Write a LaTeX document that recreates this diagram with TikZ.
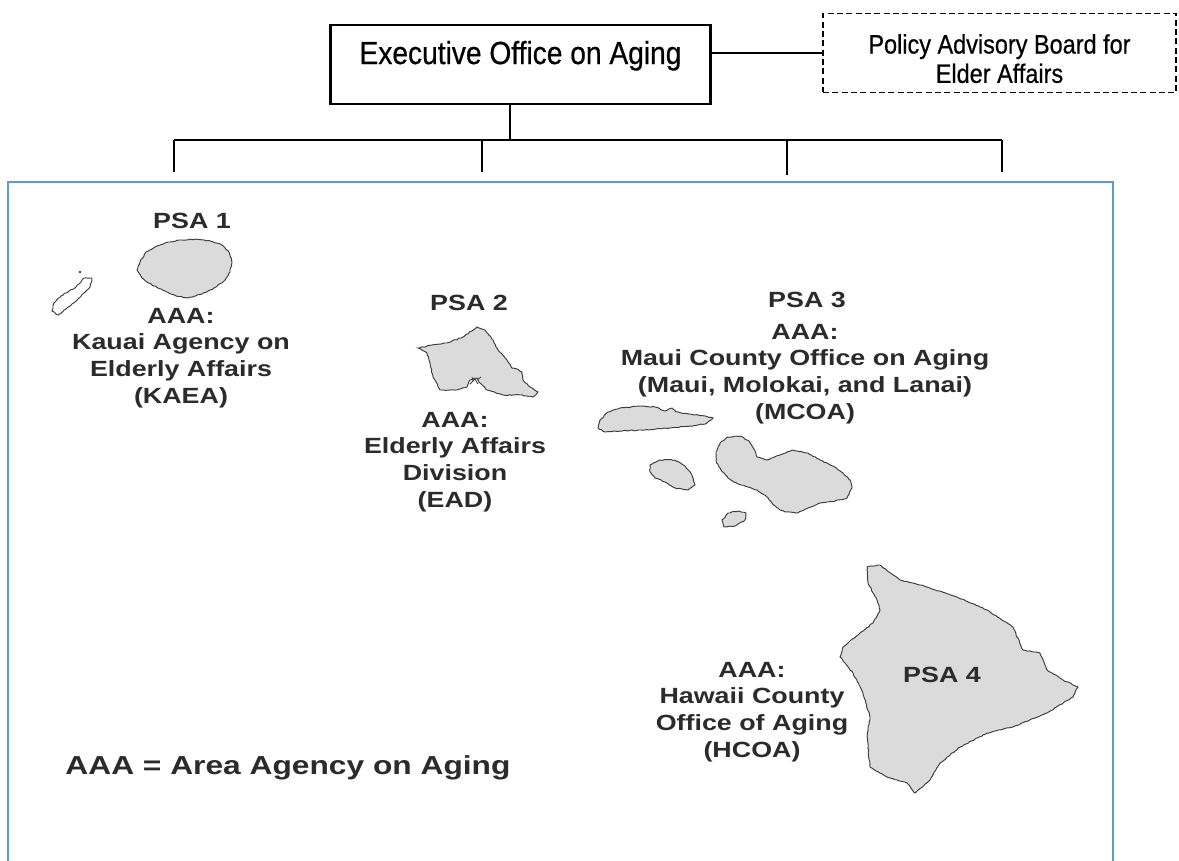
\documentclass[tikz,border=0pt]{standalone}
\usepackage{fontspec}
\setmainfont{Liberation Sans}
\newfontfamily\narrowfont[FakeStretch=0.88,FakeBold=0.6]{Liberation Sans}
\newfontfamily\mapfont[FakeStretch=1.22]{Liberation Sans}
\usetikzlibrary{decorations.pathmorphing}
\definecolor{frameblue}{HTML}{5B9BD5}
\definecolor{maptext}{HTML}{2B2B2B}
\definecolor{islandfill}{HTML}{DBDBDB}
\definecolor{coast}{HTML}{3A3A3A}
\tikzset{
  orgline/.style={line width=1.5pt, black},
  busline/.style={line width=2.2pt, black},
  execbox/.style={draw, line width=2pt, inner ysep=0pt, text height=29.4pt, text depth=29.85pt,
    minimum width=285pt, font=\narrowfont\fontsize{24}{28}\selectfont, anchor=north},
  policybox/.style={draw, dashed, dash pattern=on 4.5pt off 2.5pt, line width=1.1pt,
    minimum width=265pt, minimum height=59pt, align=center,
    font=\narrowfont\fontsize{20}{22}\selectfont},
  bluebox/.style={draw=frameblue, line width=1.4pt},
  island/.style={fill=islandfill, draw=coast, line width=0.7pt,
    decoration={random steps, segment length=1.6pt, amplitude=0.35pt}, decorate},
  outlineisland/.style={island, fill=white},
  maplabel/.style={text=maptext, align=center, inner sep=0pt, anchor=north,
    font=\mapfont\bfseries\fontsize{16.5}{19.9}\selectfont},
  legendlabel/.style={text=maptext, inner sep=0pt, anchor=north,
    font=\mapfont\bfseries\fontsize{19.5}{23}\selectfont}
}
\begin{document}
\begin{tikzpicture}[x=0.75pt, y=-0.75pt]
\pgfmathsetmacro{\dummy}{0}
\pgfmathsetseed{7}
\useasboundingbox (0,0) rectangle (1179,861);

% --- organisation boxes ---
\node[execbox] (exec) at (520.5,23.5) {Executive Office on Aging};
\node[policybox] (policy) at (999.5,53) {\rule{0pt}{23pt}Policy Advisory Board for\\Elder Affairs};
\draw[orgline] (exec.east |- policy.west) -- (policy.west);

% --- bus ---
\coordinate (busmid) at (510,140);
\coordinate (b1) at (174,140);
\coordinate (b2) at (482,140);
\coordinate (b3) at (787,140);
\coordinate (b4) at (1002,140);
\coordinate (d1) at (174,172);
\coordinate (d2) at (482,172);
\coordinate (d3) at (787,175);
\coordinate (d4) at (1002,172);
\draw[orgline] (busmid |- exec.south) -- (busmid);
\draw[busline] (b1) -- (b4);
\draw[orgline] (b1) -- (d1);
\draw[orgline] (b2) -- (d2);
\draw[orgline] (b3) -- (d3);
\draw[orgline] (b4) -- (d4);

% --- blue frame ---
\draw[bluebox] (8,862) -- (8,182) -- (1113,182) -- (1113,862);

% --- islands ---
% Niihau
\path[outlineisland] (84,278) -- (92,278) -- (90,287) -- (84,293) -- (78,299) -- (72,304) -- (66,309)
  -- (58,315) -- (52,311) -- (54,303) -- (61,296) -- (69,291) -- (76,287) -- (80,283) -- cycle;
\fill[coast] (80,272) circle (1.3);
% Kauai
\path[island] (140,262) -- (146,252) -- (157,246) -- (168,242) -- (182,240) -- (196,239)
  -- (210,241) -- (222,245) -- (229,252) -- (232,262) -- (230,272) -- (224,281) -- (214,288)
  -- (202,294) -- (188,298) -- (176,296) -- (165,291) -- (152,285) -- (142,278) -- (137,270) -- cycle;
% Oahu
\path[island] (477,327) -- (463,337) -- (447,343) -- (432,345) -- (418,348) -- (427,353) -- (430,363)
  -- (433,377) -- (440,390) -- (457,390) -- (467,387) -- (470,380) -- (477,378) -- (480,383)
  -- (487,390) -- (503,395) -- (520,395) -- (533,397) -- (538,392) -- (530,387) -- (523,380)
  -- (522,372) -- (517,369) -- (512,368) -- (507,360) -- (498,350) -- (493,340) -- (485,330) -- cycle;
\draw[coast, line width=0.6pt] (470,384) -- (475,379) -- (478,384) (473,381) -- (472,377) (477,380) -- (481,377);
% Molokai
\path[island] (598,428) -- (600,420) -- (608,412) -- (620,408) -- (640,406) -- (655,407) -- (665,411)
  -- (672,408) -- (676,412) -- (690,414) -- (705,416) -- (713,418) -- (705,424) -- (690,426)
  -- (670,428) -- (645,430) -- (620,431) -- (605,432) -- cycle;
% Lanai
\path[island] (650,465) -- (660,460) -- (675,460) -- (685,466) -- (692,475) -- (695,485) -- (688,490)
  -- (675,488) -- (665,482) -- (655,478) -- (650,472) -- cycle;
% Maui
\path[island] (716,452) -- (720,443) -- (728,437) -- (740,436) -- (749,441) -- (754,449) -- (757,457)
  -- (767,460) -- (780,455) -- (793,450) -- (808,453) -- (820,460) -- (833,466) -- (843,473)
  -- (850,480) -- (852,488) -- (847,498) -- (835,501) -- (820,503) -- (808,508) -- (797,513)
  -- (787,512) -- (780,510) -- (772,503) -- (767,497) -- (757,490) -- (748,487) -- (738,484)
  -- (728,478) -- (721,470) -- (716,461) -- cycle;
% Kahoolawe
\path[island] (722,520) -- (728,513) -- (738,511) -- (746,513) -- (745,520) -- (735,526) -- (724,527) -- cycle;
% Hawaii
\path[island] (867,567) -- (880,565) -- (900,580) -- (927,587) -- (957,597) -- (987,610) -- (1013,627)
  -- (1023,650) -- (1040,653) -- (1047,670) -- (1063,680) -- (1078,687) -- (1073,697) -- (1047,713)
  -- (1013,727) -- (987,733) -- (960,747) -- (940,763) -- (930,780) -- (915,793) -- (907,783)
  -- (887,777) -- (870,767) -- (867,737) -- (870,717) -- (863,693) -- (853,673) -- (840,657)
  -- (843,647) -- (860,633) -- (873,623) -- (880,610) -- (877,600) -- (868,583) -- cycle;

% --- labels ---
\node[maplabel] (psa1) at (192,213) {PSA 1};
\node[maplabel] (kaea) at (181,308) {AAA:\\Kauai Agency on\\Elderly Affairs\\(KAEA)};
\node[maplabel] (psa2) at (469,295) {PSA 2};
\node[maplabel] (ead) at (455,412) {AAA:\\Elderly Affairs\\Division\\(EAD)};
\node[maplabel] (psa3) at (807,292) {PSA 3};
\node[maplabel] (mcoa) at (805,324) {AAA:\\Maui County Office on Aging\\(Maui, Molokai, and Lanai)\\(MCOA)};
\node[maplabel] (psa4) at (942,667) {PSA 4};
\node[maplabel] (hcoa) at (752,662) {AAA:\\Hawaii County\\Office of Aging\\(HCOA)};
\node[legendlabel] (legend) at (288,755) {AAA = Area Agency on Aging};
\end{tikzpicture}
\end{document}
